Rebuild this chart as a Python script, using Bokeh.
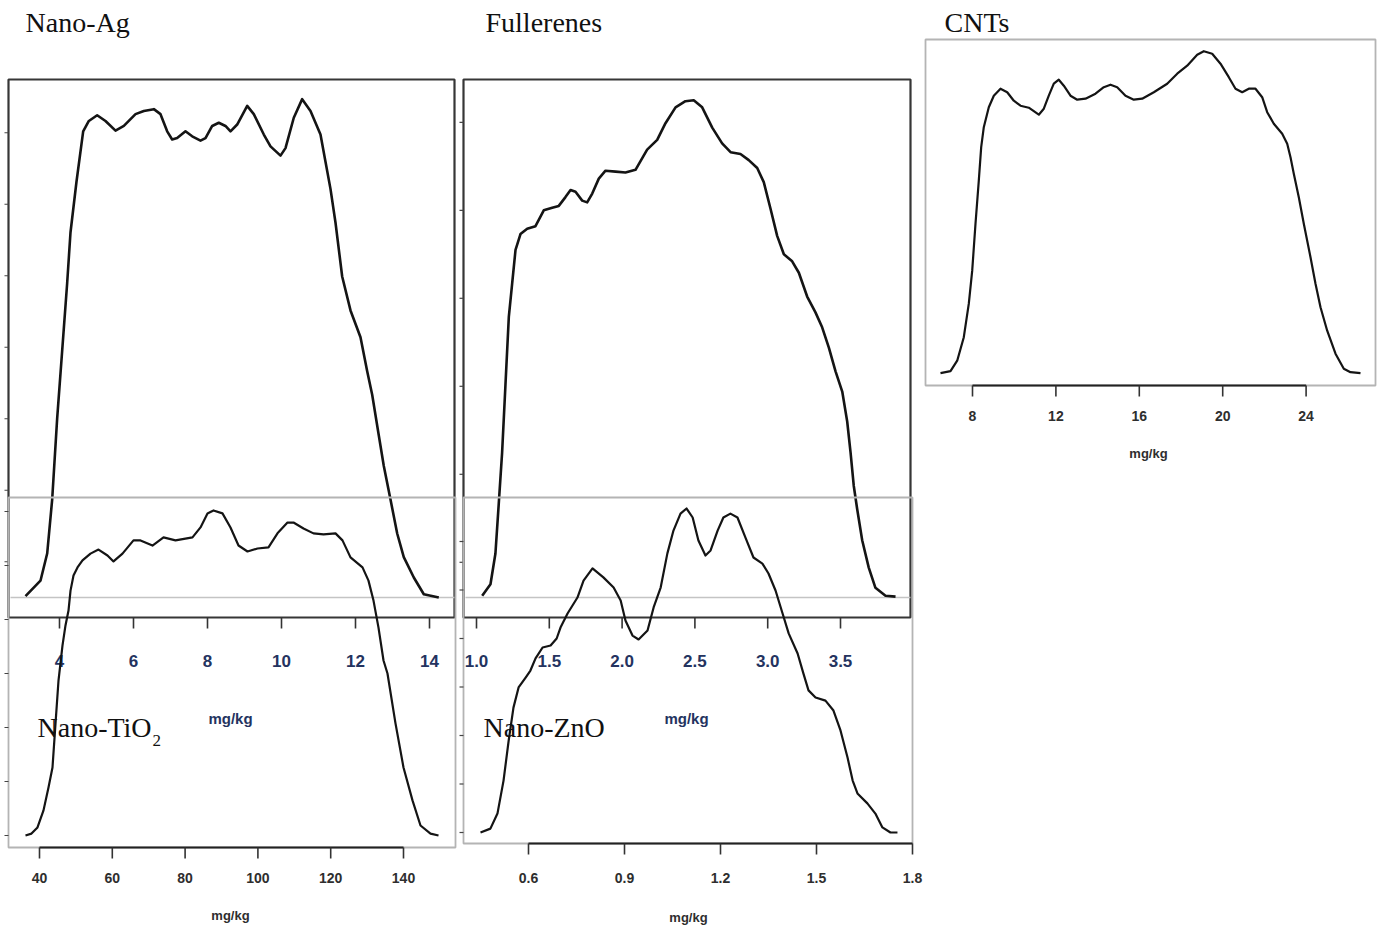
from bokeh.plotting import figure
from bokeh.models import Range1d
from bokeh.embed import file_html
from bokeh.resources import INLINE
from bokeh.core.properties import value

# ---------------- data ----------------
ag_x = [3.081, 3.486, 3.667, 3.802, 3.937, 4.072, 4.207, 4.297, 4.459, 4.640, 4.793, 5.018, 5.243, 5.514, 5.739,
        6.054, 6.279, 6.550, 6.730, 6.910, 7.045, 7.180, 7.405, 7.586, 7.811, 7.946, 8.127, 8.305, 8.486, 8.622,
        8.802, 9.073, 9.251, 9.522, 9.703, 9.973, 10.108, 10.332, 10.559, 10.784, 11.054, 11.189, 11.324, 11.459,
        11.640, 11.865, 12.135, 12.316, 12.451, 12.630, 12.765, 12.946, 13.127, 13.305, 13.576, 13.846, 14.251]
ag_y = [0.0004, 0.0047, 0.0123, 0.0274, 0.0501, 0.0690, 0.0879, 0.1021, 0.1163, 0.1304, 0.1333, 0.1349, 0.1333,
        0.1306, 0.1319, 0.1352, 0.1361, 0.1366, 0.1352, 0.1304, 0.1281, 0.1285, 0.1304, 0.1290, 0.1278, 0.1285,
        0.1319, 0.1328, 0.1319, 0.1304, 0.1323, 0.1375, 0.1352, 0.1295, 0.1262, 0.1236, 0.1257, 0.1342, 0.1394,
        0.1361, 0.1295, 0.1219, 0.1143, 0.1049, 0.0898, 0.0803, 0.0728, 0.0633, 0.0567, 0.0453, 0.0368, 0.0274,
        0.0179, 0.0113, 0.0056, 0.0009, 0.0000]

full_x = [1.039, 1.096, 1.130, 1.153, 1.176, 1.199, 1.222, 1.245, 1.268, 1.302, 1.348, 1.405, 1.462, 1.520, 1.565,
          1.611, 1.646, 1.680, 1.726, 1.760, 1.795, 1.840, 1.886, 1.955, 2.023, 2.092, 2.172, 2.241, 2.298, 2.367,
          2.435, 2.492, 2.550, 2.619, 2.687, 2.745, 2.813, 2.870, 2.928, 2.973, 3.019, 3.065, 3.111, 3.168, 3.214,
          3.271, 3.328, 3.374, 3.420, 3.466, 3.512, 3.546, 3.569, 3.591, 3.615, 3.649, 3.694, 3.740, 3.809, 3.878]
full_y = [0.002, 0.015, 0.050, 0.107, 0.165, 0.242, 0.319, 0.357, 0.395, 0.413, 0.419, 0.422, 0.440, 0.443, 0.445,
          0.455, 0.463, 0.461, 0.451, 0.449, 0.459, 0.476, 0.485, 0.484, 0.483, 0.486, 0.509, 0.520, 0.539, 0.557,
          0.564, 0.565, 0.557, 0.534, 0.516, 0.506, 0.504, 0.497, 0.488, 0.472, 0.442, 0.411, 0.390, 0.382, 0.369,
          0.342, 0.324, 0.307, 0.284, 0.257, 0.234, 0.200, 0.165, 0.127, 0.100, 0.065, 0.034, 0.011, 0.002, 0.001]

cnt_x = [6.465, 6.945, 7.266, 7.583, 7.823, 7.986, 8.144, 8.302, 8.417, 8.542, 8.782, 9.022, 9.343, 9.664, 9.981,
         10.302, 10.700, 11.180, 11.420, 11.659, 11.899, 12.139, 12.379, 12.700, 13.022, 13.420, 13.899, 14.297,
         14.619, 14.940, 15.338, 15.736, 16.139, 16.696, 17.338, 17.818, 18.297, 18.777, 19.094, 19.496, 19.894,
         20.293, 20.614, 20.935, 21.252, 21.573, 21.894, 22.134, 22.451, 22.854, 23.094, 23.252, 23.410, 23.650,
         23.890, 24.211, 24.451, 24.691, 25.012, 25.410, 25.808, 26.129, 26.609]
cnt_y = [0.0000, 0.0004, 0.0025, 0.0072, 0.0139, 0.0205, 0.0299, 0.0385, 0.0452, 0.0492, 0.0532, 0.0555, 0.0569,
         0.0562, 0.0545, 0.0535, 0.0531, 0.0517, 0.0529, 0.0555, 0.0579, 0.0587, 0.0575, 0.0555, 0.0547, 0.0549,
         0.0559, 0.0572, 0.0577, 0.0572, 0.0555, 0.0547, 0.0549, 0.0562, 0.0579, 0.0599, 0.0615, 0.0637, 0.0644,
         0.0639, 0.0619, 0.0592, 0.0569, 0.0562, 0.0569, 0.0569, 0.0552, 0.0522, 0.0499, 0.0479, 0.0459, 0.0432,
         0.0399, 0.0352, 0.0299, 0.0232, 0.0179, 0.0132, 0.0085, 0.0039, 0.0009, 0.0002, 0.0000]

tio2_x = [36.15, 37.80, 39.45, 41.10, 42.47, 43.57, 44.40, 45.22, 46.32, 47.14, 47.97, 48.52, 49.34, 50.44, 51.81,
          54.01, 56.21, 58.68, 60.33, 62.80, 65.82, 67.75, 71.04, 74.07, 77.36, 82.03, 84.23, 86.15, 87.80, 90.27,
          92.47, 94.67, 97.14, 99.89, 102.91, 105.38, 108.13, 109.78, 112.53, 115.27, 118.02, 121.32, 123.24,
          125.44, 128.74, 130.38, 131.76, 133.13, 134.51, 135.60, 137.80, 140.00, 142.47, 144.67, 147.42, 149.62]
tio2_y = [0.0, 0.00007, 0.00030, 0.00093, 0.00178, 0.00252, 0.00415, 0.00574, 0.00704, 0.00778, 0.00833, 0.00907,
          0.00963, 0.00993, 0.01019, 0.01044, 0.01059, 0.01037, 0.01015, 0.01044, 0.01093, 0.01093, 0.01074,
          0.01104, 0.01093, 0.01104, 0.01141, 0.01193, 0.01204, 0.01193, 0.01141, 0.01074, 0.01052, 0.01063,
          0.01067, 0.01119, 0.01159, 0.01159, 0.01137, 0.01119, 0.01115, 0.01119, 0.01093, 0.01030, 0.00993,
          0.00944, 0.00870, 0.00770, 0.00648, 0.00600, 0.00415, 0.00252, 0.00130, 0.00037, 0.00007, 0.0]

zno_x = [0.450, 0.481, 0.503, 0.522, 0.538, 0.553, 0.569, 0.591, 0.606, 0.622, 0.644, 0.669, 0.688, 0.700, 0.722,
         0.753, 0.772, 0.800, 0.834, 0.866, 0.888, 0.903, 0.925, 0.944, 0.972, 0.991, 1.013, 1.034, 1.053, 1.075,
         1.094, 1.113, 1.131, 1.153, 1.169, 1.191, 1.209, 1.231, 1.253, 1.278, 1.303, 1.331, 1.350, 1.372, 1.394,
         1.413, 1.441, 1.459, 1.475, 1.497, 1.528, 1.553, 1.575, 1.597, 1.613, 1.628, 1.659, 1.684, 1.706, 1.731,
         1.753]
zno_y = [0.000, 0.016, 0.078, 0.214, 0.379, 0.515, 0.598, 0.639, 0.668, 0.718, 0.763, 0.771, 0.800, 0.845, 0.903,
         0.969, 1.039, 1.089, 1.052, 1.010, 0.957, 0.874, 0.812, 0.796, 0.833, 0.928, 1.010, 1.151, 1.245, 1.315,
         1.336, 1.299, 1.204, 1.142, 1.163, 1.245, 1.299, 1.315, 1.299, 1.216, 1.134, 1.109, 1.068, 0.998, 0.903,
         0.821, 0.738, 0.656, 0.586, 0.557, 0.544, 0.503, 0.421, 0.309, 0.214, 0.161, 0.120, 0.078, 0.021, 0.000,
         0.000]

ag_ticks = [4, 6, 8, 10, 12, 14]
ag_tick_labels = ["4", "6", "8", "10", "12", "14"]
full_ticks = [1.0, 1.5, 2.0, 2.5, 3.0, 3.5]
full_tick_labels = ["1.0", "1.5", "2.0", "2.5", "3.0", "3.5"]
cnt_ticks = [8, 12, 16, 20, 24]
cnt_tick_labels = ["8", "12", "16", "20", "24"]
tio2_ticks = [40, 60, 80, 100, 120, 140]
tio2_tick_labels = ["40", "60", "80", "100", "120", "140"]
zno_ticks = [0.6, 0.9, 1.2, 1.5, 1.8]
zno_tick_labels = ["0.6", "0.9", "1.2", "1.5", "1.8"]

ag_yticks = [0.01, 0.03, 0.05, 0.07, 0.09, 0.11, 0.13]
full_yticks = [0.04, 0.14, 0.24, 0.34, 0.44, 0.54]
cnt_yticks = []
tio2_yticks = [0.0, 0.002, 0.004, 0.006, 0.008, 0.010, 0.012]
zno_yticks = [0.0, 0.2, 0.4, 0.6, 0.8, 1.0, 1.2]

titles = ["Nano-Ag", "Fullerenes", "CNTs", "Nano-TiO", "Nano-ZnO"]
unit_label = "mg/kg"

# ---------------- layout ----------------
W, H = 1380, 931
PX0, PY0 = 0, 0  # page offset of the canvas (as observed in the rendering)

p = figure(width=W, height=H, output_backend="svg", toolbar_location=None,
           x_range=Range1d(PX0, PX0 + W), y_range=Range1d(PY0 + H, PY0),
           x_axis_location=None, y_axis_location=None, min_border=0,
           background_fill_color="white", border_fill_color="white")
p.outline_line_color = None
p.grid.visible = False

extra_x, extra_y = {}, {}


def panel(name, xref, xref_px, x_ppu, base_px, y_ppu):
    extra_x[name] = Range1d(xref + (PX0 - xref_px) / x_ppu, xref + (PX0 + W - xref_px) / x_ppu)
    extra_y[name] = Range1d((base_px - (PY0 + H)) / y_ppu, (base_px - PY0) / y_ppu)
    return (lambda px: xref + (px - xref_px) / x_ppu), (lambda py: (base_px - py) / y_ppu)


SANS = "Liberation Sans"
TOP_LAB = dict(font=SANS, size="17px", color="#24335f", style="bold")
BOT_LAB = dict(font=SANS, size="14px", color="#2e2e2e", style="bold")

specs = [
    dict(name="ag", xs=ag_x, ys=ag_y, xref=4, xref_px=59, xppu=37.0, base=597, yppu=3575.0,
         frame=(8, 454, 79, 617), dark=True, ticks=ag_ticks, labels=ag_tick_labels, lab_py=660,
         unit=(230, 718), yt=ag_yticks, lab=TOP_LAB, cw=2.6),
    dict(name="full", xs=full_x, ys=full_y, xref=1.0, xref_px=476, xppu=145.6, base=597, yppu=880.0,
         frame=(463, 910, 79, 617), dark=True, ticks=full_ticks, labels=full_tick_labels, lab_py=660,
         unit=(686, 718), yt=full_yticks, lab=TOP_LAB, cw=2.6),
    dict(name="cnt", xs=cnt_x, ys=cnt_y, xref=8, xref_px=972, xppu=20.85, base=372.7, yppu=5000.0,
         frame=(925, 1375, 39, 385), dark=False, ticks=cnt_ticks, labels=cnt_tick_labels, lab_py=415,
         unit=(1148, 453), yt=cnt_yticks, lab=BOT_LAB, cw=2.2),
    dict(name="tio2", xs=tio2_x, ys=tio2_y, xref=40, xref_px=39, xppu=3.64, base=835, yppu=27000.0,
         frame=(8, 455, 497, 847), dark=False, ticks=tio2_ticks, labels=tio2_tick_labels, lab_py=877,
         unit=(230, 915), yt=tio2_yticks, lab=BOT_LAB, cw=2.2),
    dict(name="zno", xs=zno_x, ys=zno_y, xref=0.6, xref_px=528, xppu=320.0, base=832, yppu=242.5,
         frame=(463, 912, 497, 843), dark=False, ticks=zno_ticks, labels=zno_tick_labels, lab_py=877,
         unit=(688, 917), yt=zno_yticks, lab=BOT_LAB, cw=2.2),
]

for s in specs:
    n = s["name"]
    fx, fy = panel(n, s["xref"], s["xref_px"], s["xppu"], s["base"], s["yppu"])
    kw = dict(x_range_name=n, y_range_name=n)
    L, R, T, B = s["frame"]
    if s["dark"]:
        p.quad(left=[fx(L)], right=[fx(R)], top=[fy(T)], bottom=[fy(B)], fill_color=None,
               line_color="#363636", line_width=2.2, **kw)
        p.segment(x0=[fx(L + 2)], x1=[fx(R)], y0=[0], y1=[0], line_color="#c4c4c4", line_width=1.6, **kw)
    else:
        p.quad(left=[fx(L)], right=[fx(R)], top=[fy(T)], bottom=[fy(B)], fill_color=None,
               line_color="#b4b4b4", line_width=1.8, **kw)
        p.segment(x0=[s["ticks"][0]], x1=[s["ticks"][-1]], y0=[fy(B)], y1=[fy(B)],
                  line_color="#222222", line_width=2.2, **kw)
    nt = len(s["ticks"])
    p.segment(x0=s["ticks"], x1=s["ticks"], y0=[fy(B)] * nt, y1=[fy(B + 11)] * nt,
              line_color="#333333", line_width=1.6, **kw)
    ny = len(s["yt"])
    if ny:
        p.segment(x0=[fx(L)] * ny, x1=[fx(L - 4)] * ny, y0=s["yt"], y1=s["yt"],
                  line_color="#444444", line_width=1.2, **kw)
    lab = s["lab"]
    p.text(x=s["ticks"], y=[fy(s["lab_py"])] * nt, text=s["labels"], text_align="center",
           text_baseline="middle", text_font=value(lab["font"]), text_font_size=value(lab["size"]),
           text_font_style=lab["style"], text_color=lab["color"], **kw)
    ux, uy = s["unit"]
    p.text(x=[fx(ux)], y=[fy(uy)], text=[unit_label], text_align="center", text_baseline="middle",
           text_font=value(lab["font"]), text_font_size=value("13px" if lab is BOT_LAB else "15px"),
           text_font_style="bold", text_color=lab["color"], **kw)
    p.line(s["xs"], s["ys"], line_color="#141414", line_width=s["cw"], line_join="round", **kw)

p.extra_x_ranges = extra_x
p.extra_y_ranges = extra_y

# panel titles (page coordinates)
SERIF = value("Liberation Serif")
p.text(x=[25, 485, 944, 37, 483], y=[22, 22, 22, 727, 727], text=titles,
       text_font=SERIF, text_font_size=value("28px"), text_color="#111111",
       text_align="left", text_baseline="middle")
p.text(x=[152], y=[740], text=["2"], text_font=SERIF, text_font_size=value("17px"),
       text_color="#111111", text_align="left", text_baseline="middle")

open("out.html", "w").write(file_html(p, INLINE))
